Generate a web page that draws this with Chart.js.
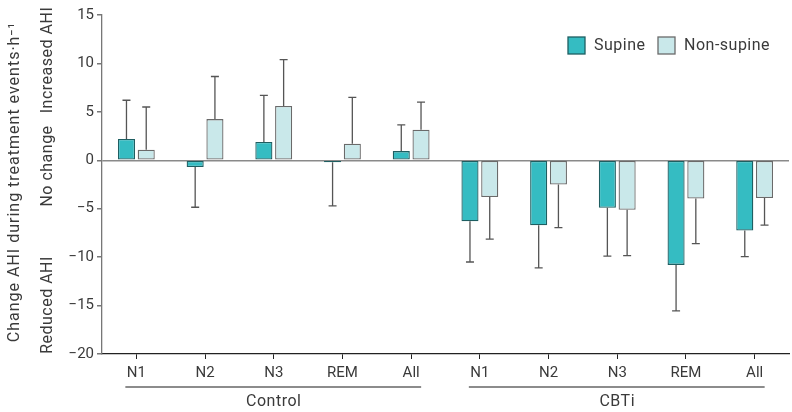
<!DOCTYPE html>
<html lang="en">
<head>
  <meta charset="UTF-8">
  <title>Change in AHI by position</title>
  <style>
    * { box-sizing: border-box; }
    body { margin: 0; background: #fff; }
    .chart-container { position: relative; width: 792px; height: 412px; }
  </style>
  <script src="https://cdn.jsdelivr.net/npm/chart.js@4.4.1/dist/chart.umd.min.js"></script>
</head>
<body>
  <div class="chart-container">
    <canvas id="ahiChart"></canvas>
  </div>

  <script>
    // --- Data ---
    const stages = ['N1', 'N2', 'N3', 'REM', 'All', 'N1', 'N2', 'N3', 'REM', 'All'];
    const groups = ['Control', 'CBTi'];

    const supine    = [2.2, -0.7, 1.9, -0.2, 0.95, -6.3, -6.7, -4.9, -10.8, -7.25];
    const supineSD  = [4.0, 4.15, 4.8, 4.5, 2.7, 4.2, 4.4, 5.0, 4.75, 2.7];
    const nonSupine   = [1.1, 4.25, 5.6, 1.7, 3.15, -3.8, -2.5, -5.1, -3.95, -3.9];
    const nonSupineSD = [4.4, 4.4, 4.8, 4.8, 2.85, 4.35, 4.45, 4.75, 4.65, 2.8];

    const yTicks = [15, 10, 5, 0, -5, -10, -15, -20];

    const FONT = 'Roboto, "DejaVu Sans", sans-serif';
    const TXT = '#3a3a3a';

    // --- Error bars, group labels, legend and side labels ---
    const extras = {
      id: 'extras',
      afterDatasetsDraw(chart) {
        const ctx = chart.ctx;
        const y = chart.scales.y;
        const sds = [supineSD, nonSupineSD];
        ctx.save();
        ctx.strokeStyle = '#555';
        ctx.lineWidth = 1.3;
        chart.data.datasets.forEach((ds, di) => {
          chart.getDatasetMeta(di).data.forEach((bar, i) => {
            const v = ds.data[i];
            const end = v >= 0 ? v + sds[di][i] : v - sds[di][i];
            const yEnd = y.getPixelForValue(end);
            ctx.beginPath();
            ctx.moveTo(bar.x, bar.y);
            ctx.lineTo(bar.x, yEnd);
            ctx.moveTo(bar.x - 4, yEnd);
            ctx.lineTo(bar.x + 4, yEnd);
            ctx.stroke();
          });
        });
        ctx.restore();
      },
      afterDraw(chart) {
        const ctx = chart.ctx;
        const x = chart.scales.x;
        ctx.save();

        // group underline + label
        ctx.font = '16px ' + FONT;
        ctx.letterSpacing = '0.5px';
        ctx.fillStyle = TXT;
        ctx.textAlign = 'center';
        ctx.textBaseline = 'middle';
        groups.forEach((g, gi) => {
          const first = x.getPixelForValue(gi * 5);
          const last = x.getPixelForValue(gi * 5 + 4);
          ctx.strokeStyle = '#666';
          ctx.lineWidth = 1.3;
          ctx.beginPath();
          ctx.moveTo(first - 11, 387);
          ctx.lineTo(last + 10, 387);
          ctx.stroke();
          ctx.fillText(g, x.getPixelForValue(gi * 5 + 2), 402);
        });

        // legend
        const items = [
          { label: 'Supine', ds: chart.data.datasets[0], x: 568 },
          { label: 'Non-supine', ds: chart.data.datasets[1], x: 658 }
        ];
        ctx.textAlign = 'left';
        items.forEach(it => {
          ctx.fillStyle = it.ds.backgroundColor;
          ctx.fillRect(it.x, 37, 17, 17);
          ctx.strokeStyle = it.ds.borderColor;
          ctx.lineWidth = 1.3;
          ctx.strokeRect(it.x, 37, 17, 17);
          ctx.fillStyle = TXT;
          ctx.fillText(it.label, it.x + 26, 46);
        });

        // rotated axis title and direction labels
        const rot = (text, cx, cy) => {
          ctx.save();
          ctx.translate(cx, cy);
          ctx.rotate(-Math.PI / 2);
          ctx.textAlign = 'center';
          ctx.fillText(text, 0, 0);
          ctx.restore();
        };
        ctx.fillStyle = TXT;
        rot('Increased AHI', 48, 60);
        rot('No change', 48, 166);
        rot('Reduced AHI', 48, 305);
        ctx.letterSpacing = '1px';
        rot('Change AHI during treatment events\u00b7h\u207b\u00b9', 15, 182);

        ctx.restore();
      }
    };

    new Chart(document.getElementById('ahiChart'), {
      type: 'bar',
      data: {
        labels: stages,
        datasets: [
          {
            label: 'Supine',
            data: supine,
            backgroundColor: '#35bcc2',
            borderColor: '#1e5e61',
            borderWidth: 1.3,
            borderSkipped: false,
            barPercentage: 0.865,
            categoryPercentage: 0.575
          },
          {
            label: 'Non-supine',
            data: nonSupine,
            backgroundColor: '#c9e8ea',
            borderColor: '#6a6a6a',
            borderWidth: 1.3,
            borderSkipped: false,
            barPercentage: 0.865,
            categoryPercentage: 0.575
          }
        ]
      },
      options: {
        responsive: true,
        maintainAspectRatio: false,
        animation: false,
        layout: { padding: { top: 15, right: 3, left: 0, bottom: 0 } },
        plugins: {
          legend: { display: false },
          tooltip: { enabled: false }
        },
        scales: {
          x: {
            grid: { offset: false, drawOnChartArea: false, tickLength: 5, tickColor: '#222', tickWidth: 1 },
            border: { color: '#222', width: 1.3 },
            ticks: { color: TXT, font: { family: FONT, size: 15 }, padding: 5, maxRotation: 0 },
            afterFit: s => { s.height = 58; }
          },
          y: {
            min: -20,
            max: 15,
            afterBuildTicks: s => { s.ticks = yTicks.map(v => ({ value: v })); },
            grid: {
              drawOnChartArea: true,
              color: c => (c.tick && c.tick.value === 0 ? '#8a8a8a' : 'rgba(0,0,0,0)'),
              lineWidth: 1.5,
              tickLength: 5,
              tickColor: '#777'
            },
            border: { color: '#777', width: 1.3 },
            ticks: {
              color: TXT,
              font: { family: FONT, size: 15 },
              padding: 3,
              callback: v => (v < 0 ? '\u2212' + Math.abs(v) : v)
            },
            afterFit: s => { s.width = 102; }
          }
        }
      },
      plugins: [extras]
    });
  </script>
</body>
</html>
